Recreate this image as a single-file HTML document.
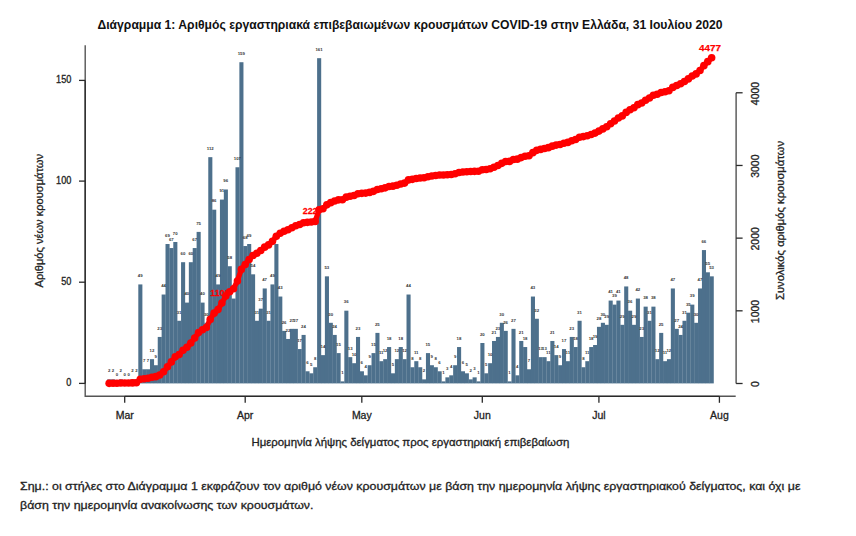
<!DOCTYPE html>
<html><head><meta charset="utf-8">
<style>
html,body{margin:0;padding:0;background:#fff;}
body{width:856px;height:536px;overflow:hidden;}
svg{display:block;font-family:"Liberation Sans",sans-serif;}
.t{stroke:#222;stroke-width:0.3px;}
</style></head><body>
<svg width="856" height="536" viewBox="0 0 856 536">
<rect width="856" height="536" fill="#fff"/>
<text x="97.5" y="28.7" font-size="12.4" font-weight="bold" fill="#111" textLength="625" lengthAdjust="spacingAndGlyphs">Διάγραμμα 1: Αριθμός εργαστηριακά επιβεβαιωμένων κρουσμάτων COVID-19 στην Ελλάδα, 31 Ιουλίου 2020</text>
<g fill="#4d708c"><rect x="107.21" y="379.36" width="4.087" height="4.04"/><rect x="111.10" y="379.36" width="4.087" height="4.04"/><rect x="118.87" y="379.36" width="4.087" height="4.04"/><rect x="130.53" y="379.36" width="4.087" height="4.04"/><rect x="134.42" y="379.36" width="4.087" height="4.04"/><rect x="138.30" y="284.42" width="4.087" height="98.98"/><rect x="142.19" y="369.26" width="4.087" height="14.14"/><rect x="146.08" y="369.26" width="4.087" height="14.14"/><rect x="149.97" y="359.16" width="4.087" height="24.24"/><rect x="153.85" y="365.22" width="4.087" height="18.18"/><rect x="157.74" y="336.94" width="4.087" height="46.46"/><rect x="161.63" y="294.52" width="4.087" height="88.88"/><rect x="165.51" y="244.02" width="4.087" height="139.38"/><rect x="169.40" y="248.06" width="4.087" height="135.34"/><rect x="173.29" y="242.00" width="4.087" height="141.40"/><rect x="177.17" y="320.78" width="4.087" height="62.62"/><rect x="181.06" y="262.20" width="4.087" height="121.20"/><rect x="184.95" y="302.60" width="4.087" height="80.80"/><rect x="188.84" y="262.20" width="4.087" height="121.20"/><rect x="192.72" y="248.06" width="4.087" height="135.34"/><rect x="196.61" y="231.90" width="4.087" height="151.50"/><rect x="200.50" y="302.60" width="4.087" height="80.80"/><rect x="204.38" y="322.80" width="4.087" height="60.60"/><rect x="208.27" y="157.16" width="4.087" height="226.24"/><rect x="212.16" y="209.68" width="4.087" height="173.72"/><rect x="216.04" y="284.42" width="4.087" height="98.98"/><rect x="219.93" y="199.58" width="4.087" height="183.82"/><rect x="223.82" y="189.48" width="4.087" height="193.92"/><rect x="227.71" y="266.24" width="4.087" height="117.16"/><rect x="231.59" y="298.56" width="4.087" height="84.84"/><rect x="235.48" y="167.26" width="4.087" height="216.14"/><rect x="239.37" y="62.22" width="4.087" height="321.18"/><rect x="243.25" y="246.04" width="4.087" height="137.36"/><rect x="247.14" y="244.02" width="4.087" height="139.38"/><rect x="251.03" y="274.32" width="4.087" height="109.08"/><rect x="254.91" y="320.78" width="4.087" height="62.62"/><rect x="258.80" y="308.66" width="4.087" height="74.74"/><rect x="262.69" y="288.46" width="4.087" height="94.94"/><rect x="266.58" y="320.78" width="4.087" height="62.62"/><rect x="270.46" y="284.42" width="4.087" height="98.98"/><rect x="274.35" y="244.02" width="4.087" height="139.38"/><rect x="278.24" y="296.54" width="4.087" height="86.86"/><rect x="282.12" y="330.88" width="4.087" height="52.52"/><rect x="286.01" y="338.96" width="4.087" height="44.44"/><rect x="289.90" y="328.86" width="4.087" height="54.54"/><rect x="293.78" y="328.86" width="4.087" height="54.54"/><rect x="297.67" y="349.06" width="4.087" height="34.34"/><rect x="301.56" y="334.92" width="4.087" height="48.48"/><rect x="305.45" y="371.28" width="4.087" height="12.12"/><rect x="309.33" y="373.30" width="4.087" height="10.10"/><rect x="313.22" y="367.24" width="4.087" height="16.16"/><rect x="317.11" y="58.18" width="4.087" height="325.22"/><rect x="320.99" y="355.12" width="4.087" height="28.28"/><rect x="324.88" y="276.34" width="4.087" height="107.06"/><rect x="328.77" y="322.80" width="4.087" height="60.60"/><rect x="332.65" y="334.92" width="4.087" height="48.48"/><rect x="336.54" y="353.10" width="4.087" height="30.30"/><rect x="340.43" y="381.38" width="4.087" height="2.02"/><rect x="344.32" y="310.68" width="4.087" height="72.72"/><rect x="348.20" y="357.14" width="4.087" height="26.26"/><rect x="352.09" y="363.20" width="4.087" height="20.20"/><rect x="355.98" y="336.94" width="4.087" height="46.46"/><rect x="359.86" y="371.28" width="4.087" height="12.12"/><rect x="363.75" y="375.32" width="4.087" height="8.08"/><rect x="367.64" y="365.22" width="4.087" height="18.18"/><rect x="371.52" y="353.10" width="4.087" height="30.30"/><rect x="375.41" y="332.90" width="4.087" height="50.50"/><rect x="379.30" y="361.18" width="4.087" height="22.22"/><rect x="383.19" y="359.16" width="4.087" height="24.24"/><rect x="387.07" y="347.04" width="4.087" height="36.36"/><rect x="390.96" y="373.30" width="4.087" height="10.10"/><rect x="394.85" y="359.16" width="4.087" height="24.24"/><rect x="398.73" y="347.04" width="4.087" height="36.36"/><rect x="402.62" y="359.16" width="4.087" height="24.24"/><rect x="406.51" y="294.52" width="4.087" height="88.88"/><rect x="410.39" y="367.24" width="4.087" height="16.16"/><rect x="414.28" y="361.18" width="4.087" height="22.22"/><rect x="418.17" y="367.24" width="4.087" height="16.16"/><rect x="422.06" y="379.36" width="4.087" height="4.04"/><rect x="425.94" y="353.10" width="4.087" height="30.30"/><rect x="429.83" y="365.22" width="4.087" height="18.18"/><rect x="433.72" y="367.24" width="4.087" height="16.16"/><rect x="437.60" y="371.28" width="4.087" height="12.12"/><rect x="441.49" y="381.38" width="4.087" height="2.02"/><rect x="445.38" y="377.34" width="4.087" height="6.06"/><rect x="449.26" y="375.32" width="4.087" height="8.08"/><rect x="453.15" y="365.22" width="4.087" height="18.18"/><rect x="457.04" y="347.04" width="4.087" height="36.36"/><rect x="460.93" y="371.28" width="4.087" height="12.12"/><rect x="464.81" y="373.30" width="4.087" height="10.10"/><rect x="468.70" y="379.36" width="4.087" height="4.04"/><rect x="472.59" y="377.34" width="4.087" height="6.06"/><rect x="476.47" y="381.38" width="4.087" height="2.02"/><rect x="480.36" y="343.00" width="4.087" height="40.40"/><rect x="484.25" y="373.30" width="4.087" height="10.10"/><rect x="488.13" y="363.20" width="4.087" height="20.20"/><rect x="492.02" y="340.98" width="4.087" height="42.42"/><rect x="495.91" y="336.94" width="4.087" height="46.46"/><rect x="499.80" y="322.80" width="4.087" height="60.60"/><rect x="503.68" y="330.88" width="4.087" height="52.52"/><rect x="507.57" y="381.38" width="4.087" height="2.02"/><rect x="511.46" y="328.86" width="4.087" height="54.54"/><rect x="515.34" y="375.32" width="4.087" height="8.08"/><rect x="519.23" y="340.98" width="4.087" height="42.42"/><rect x="523.12" y="347.04" width="4.087" height="36.36"/><rect x="527.00" y="369.26" width="4.087" height="14.14"/><rect x="530.89" y="296.54" width="4.087" height="86.86"/><rect x="534.78" y="318.76" width="4.087" height="64.64"/><rect x="538.67" y="357.14" width="4.087" height="26.26"/><rect x="542.55" y="357.14" width="4.087" height="26.26"/><rect x="546.44" y="361.18" width="4.087" height="22.22"/><rect x="550.33" y="340.98" width="4.087" height="42.42"/><rect x="554.21" y="355.12" width="4.087" height="28.28"/><rect x="558.10" y="365.22" width="4.087" height="18.18"/><rect x="561.99" y="349.06" width="4.087" height="34.34"/><rect x="565.87" y="361.18" width="4.087" height="22.22"/><rect x="569.76" y="336.94" width="4.087" height="46.46"/><rect x="573.65" y="347.04" width="4.087" height="36.36"/><rect x="577.54" y="320.78" width="4.087" height="62.62"/><rect x="581.42" y="367.24" width="4.087" height="16.16"/><rect x="585.31" y="361.18" width="4.087" height="22.22"/><rect x="589.20" y="347.04" width="4.087" height="36.36"/><rect x="593.08" y="345.02" width="4.087" height="38.38"/><rect x="596.97" y="326.84" width="4.087" height="56.56"/><rect x="600.86" y="322.80" width="4.087" height="60.60"/><rect x="604.74" y="324.82" width="4.087" height="58.58"/><rect x="608.63" y="300.58" width="4.087" height="82.82"/><rect x="612.52" y="304.62" width="4.087" height="78.78"/><rect x="616.41" y="300.58" width="4.087" height="82.82"/><rect x="620.29" y="324.82" width="4.087" height="58.58"/><rect x="624.18" y="286.44" width="4.087" height="96.96"/><rect x="628.07" y="310.68" width="4.087" height="72.72"/><rect x="631.95" y="324.82" width="4.087" height="58.58"/><rect x="635.84" y="298.56" width="4.087" height="84.84"/><rect x="639.73" y="336.94" width="4.087" height="46.46"/><rect x="643.61" y="306.64" width="4.087" height="76.76"/><rect x="647.50" y="320.78" width="4.087" height="62.62"/><rect x="651.39" y="306.64" width="4.087" height="76.76"/><rect x="655.28" y="359.16" width="4.087" height="24.24"/><rect x="659.16" y="332.90" width="4.087" height="50.50"/><rect x="663.05" y="361.18" width="4.087" height="22.22"/><rect x="666.94" y="359.16" width="4.087" height="24.24"/><rect x="670.82" y="288.46" width="4.087" height="94.94"/><rect x="674.71" y="328.86" width="4.087" height="54.54"/><rect x="678.60" y="334.92" width="4.087" height="48.48"/><rect x="682.48" y="320.78" width="4.087" height="62.62"/><rect x="686.37" y="312.70" width="4.087" height="70.70"/><rect x="690.26" y="304.62" width="4.087" height="78.78"/><rect x="694.15" y="322.80" width="4.087" height="60.60"/><rect x="698.03" y="288.46" width="4.087" height="94.94"/><rect x="701.92" y="250.08" width="4.087" height="133.32"/><rect x="705.81" y="272.30" width="4.087" height="111.10"/><rect x="709.69" y="276.34" width="4.087" height="107.06"/></g>
<g fill="#333" font-size="4.3" font-weight="bold" text-anchor="middle"><text x="109.15" y="372.16">2</text><text x="113.04" y="372.16">2</text><text x="116.93" y="376.20">0</text><text x="120.81" y="372.16">2</text><text x="124.70" y="376.20">0</text><text x="128.59" y="376.20">0</text><text x="132.47" y="372.16">2</text><text x="136.36" y="372.16">2</text><text x="140.25" y="277.22">49</text><text x="144.13" y="362.06">7</text><text x="148.02" y="362.06">7</text><text x="151.91" y="351.96">12</text><text x="155.80" y="358.02">9</text><text x="159.68" y="329.74">23</text><text x="163.57" y="287.32">44</text><text x="167.46" y="236.82">69</text><text x="171.34" y="240.86">67</text><text x="175.23" y="234.80">70</text><text x="179.12" y="313.58">31</text><text x="183.00" y="255.00">60</text><text x="186.89" y="295.40">40</text><text x="190.78" y="255.00">60</text><text x="194.67" y="240.86">67</text><text x="198.55" y="224.70">75</text><text x="202.44" y="295.40">40</text><text x="206.33" y="315.60">30</text><text x="210.21" y="149.96">112</text><text x="214.10" y="202.48">86</text><text x="217.99" y="277.22">49</text><text x="221.88" y="192.38">91</text><text x="225.76" y="182.28">96</text><text x="229.65" y="259.04">58</text><text x="233.54" y="291.36">42</text><text x="237.42" y="160.06">107</text><text x="241.31" y="55.02">159</text><text x="245.20" y="238.84">68</text><text x="249.08" y="236.82">69</text><text x="252.97" y="267.12">54</text><text x="256.86" y="313.58">31</text><text x="260.75" y="301.46">37</text><text x="264.63" y="281.26">47</text><text x="268.52" y="313.58">31</text><text x="272.41" y="277.22">49</text><text x="276.29" y="236.82">69</text><text x="280.18" y="289.34">43</text><text x="284.07" y="323.68">26</text><text x="287.95" y="331.76">22</text><text x="291.84" y="321.66">27</text><text x="295.73" y="321.66">27</text><text x="299.62" y="341.86">17</text><text x="303.50" y="327.72">24</text><text x="307.39" y="364.08">6</text><text x="311.28" y="366.10">5</text><text x="315.16" y="360.04">8</text><text x="319.05" y="50.98">161</text><text x="322.94" y="347.92">14</text><text x="326.82" y="269.14">53</text><text x="330.71" y="315.60">30</text><text x="334.60" y="327.72">24</text><text x="338.49" y="345.90">15</text><text x="342.37" y="374.18">1</text><text x="346.26" y="303.48">36</text><text x="350.15" y="349.94">13</text><text x="354.03" y="356.00">10</text><text x="357.92" y="329.74">23</text><text x="361.81" y="364.08">6</text><text x="365.69" y="368.12">4</text><text x="369.58" y="358.02">9</text><text x="373.47" y="345.90">15</text><text x="377.36" y="325.70">25</text><text x="381.24" y="353.98">11</text><text x="385.13" y="351.96">12</text><text x="389.02" y="339.84">18</text><text x="392.90" y="366.10">5</text><text x="396.79" y="351.96">12</text><text x="400.68" y="339.84">18</text><text x="404.56" y="351.96">12</text><text x="408.45" y="287.32">44</text><text x="412.34" y="360.04">8</text><text x="416.22" y="353.98">11</text><text x="420.11" y="360.04">8</text><text x="424.00" y="372.16">2</text><text x="427.89" y="345.90">15</text><text x="431.77" y="358.02">9</text><text x="435.66" y="360.04">8</text><text x="439.55" y="364.08">6</text><text x="443.43" y="374.18">1</text><text x="447.32" y="370.14">3</text><text x="451.21" y="368.12">4</text><text x="455.09" y="358.02">9</text><text x="458.98" y="339.84">18</text><text x="462.87" y="364.08">6</text><text x="466.76" y="366.10">5</text><text x="470.64" y="372.16">2</text><text x="474.53" y="370.14">3</text><text x="478.42" y="374.18">1</text><text x="482.30" y="335.80">20</text><text x="486.19" y="366.10">5</text><text x="490.08" y="356.00">10</text><text x="493.96" y="333.78">21</text><text x="497.85" y="329.74">23</text><text x="501.74" y="315.60">30</text><text x="505.63" y="323.68">26</text><text x="509.51" y="374.18">1</text><text x="513.40" y="321.66">27</text><text x="517.29" y="368.12">4</text><text x="521.17" y="333.78">21</text><text x="525.06" y="339.84">18</text><text x="528.95" y="362.06">7</text><text x="532.84" y="289.34">43</text><text x="536.72" y="311.56">32</text><text x="540.61" y="349.94">13</text><text x="544.50" y="349.94">13</text><text x="548.38" y="353.98">11</text><text x="552.27" y="333.78">21</text><text x="556.16" y="347.92">14</text><text x="560.04" y="358.02">9</text><text x="563.93" y="341.86">17</text><text x="567.82" y="353.98">11</text><text x="571.71" y="329.74">23</text><text x="575.59" y="339.84">18</text><text x="579.48" y="313.58">31</text><text x="583.37" y="360.04">8</text><text x="587.25" y="353.98">11</text><text x="591.14" y="339.84">18</text><text x="595.03" y="337.82">19</text><text x="598.91" y="319.64">28</text><text x="602.80" y="315.60">30</text><text x="606.69" y="317.62">29</text><text x="610.58" y="293.38">41</text><text x="614.46" y="297.42">39</text><text x="618.35" y="293.38">41</text><text x="622.24" y="317.62">29</text><text x="626.12" y="279.24">48</text><text x="630.01" y="303.48">36</text><text x="633.90" y="317.62">29</text><text x="637.78" y="291.36">42</text><text x="641.67" y="329.74">23</text><text x="645.56" y="299.44">38</text><text x="649.45" y="313.58">31</text><text x="653.33" y="299.44">38</text><text x="657.22" y="351.96">12</text><text x="661.11" y="325.70">25</text><text x="664.99" y="353.98">11</text><text x="668.88" y="351.96">12</text><text x="672.77" y="281.26">47</text><text x="676.65" y="321.66">27</text><text x="680.54" y="327.72">24</text><text x="684.43" y="313.58">31</text><text x="688.32" y="305.50">35</text><text x="692.20" y="297.42">39</text><text x="696.09" y="315.60">30</text><text x="699.98" y="281.26">47</text><text x="703.86" y="242.88">66</text><text x="707.75" y="265.10">55</text><text x="711.64" y="269.14">53</text></g>
<g stroke="#555" stroke-width="1.4" fill="none"><path d="M85.2 45.3 V396.3 H735.7"/></g>
<g stroke="#2a2a2a" stroke-width="1.3" fill="none">
<path d="M85.2 80.4 V383.4"/>
<path d="M124.70 396.3 H719.41"/>
<path d="M736.1 92.8 V383.5" stroke="#444"/>
<line x1="79" y1="383.4" x2="85.2" y2="383.4"/><line x1="79" y1="282.2" x2="85.2" y2="282.2"/><line x1="79" y1="181.1" x2="85.2" y2="181.1"/><line x1="79" y1="80.4" x2="85.2" y2="80.4"/><line x1="124.70" y1="396.3" x2="124.70" y2="402.8"/><line x1="245.20" y1="396.3" x2="245.20" y2="402.8"/><line x1="361.81" y1="396.3" x2="361.81" y2="402.8"/><line x1="482.30" y1="396.3" x2="482.30" y2="402.8"/><line x1="598.91" y1="396.3" x2="598.91" y2="402.8"/><line x1="719.41" y1="396.3" x2="719.41" y2="402.8"/><line x1="736.1" y1="383.50" x2="742.6" y2="383.50"/><line x1="736.1" y1="310.82" x2="742.6" y2="310.82"/><line x1="736.1" y1="238.14" x2="742.6" y2="238.14"/><line x1="736.1" y1="165.46" x2="742.6" y2="165.46"/><line x1="736.1" y1="92.78" x2="742.6" y2="92.78"/>
</g>
<g class="t" font-size="10" fill="#222" text-anchor="end"><text transform="translate(71.4 386.4) scale(0.92 1)">0</text><text transform="translate(71.4 285.2) scale(0.92 1)">50</text><text transform="translate(71.4 184.1) scale(0.92 1)">100</text><text transform="translate(71.4 83.4) scale(0.92 1)">150</text></g>
<g class="t" font-size="10.5" fill="#222" text-anchor="middle"><text x="124.70" y="419.4">Mar</text><text x="245.20" y="419.4">Apr</text><text x="361.81" y="419.4">May</text><text x="482.30" y="419.4">Jun</text><text x="598.91" y="419.4">Jul</text><text x="719.41" y="419.4">Aug</text></g>
<g class="t" font-size="10.5" fill="#222" text-anchor="middle"><text transform="translate(759.3 384.20) rotate(-90)">0</text><text transform="translate(759.3 311.52) rotate(-90)">1000</text><text transform="translate(759.3 238.84) rotate(-90)">2000</text><text transform="translate(759.3 166.16) rotate(-90)">3000</text><text transform="translate(759.3 93.48) rotate(-90)">4000</text></g>
<text class="t" transform="translate(42.9 287.5) rotate(-90)" font-size="11" fill="#222" textLength="133.5" lengthAdjust="spacingAndGlyphs">Αριθμός νέων κρουσμάτων</text>
<text class="t" transform="translate(784 300) rotate(-90)" font-size="11" fill="#222" textLength="159" lengthAdjust="spacingAndGlyphs">Συνολικός αριθμός κρουσμάτων</text>
<text class="t" x="251.4" y="445.8" font-size="11" fill="#222" textLength="318" lengthAdjust="spacingAndGlyphs">Ημερομηνία λήψης δείγματος προς εργαστηριακή επιβεβαίωση</text>
<g font-size="9.6" font-weight="bold" fill="#f00" stroke="#f00" stroke-width="0.25">
<text transform="translate(210.3 296) scale(0.92 1)">1100</text>
<text transform="translate(302.8 214.2) scale(0.92 1)">2227</text>
<text x="699" y="51.2" font-size="9.8" textLength="22" lengthAdjust="spacingAndGlyphs">4477</text>
</g>
<g stroke="#f00" stroke-width="5.2" fill="none" stroke-linejoin="round" stroke-linecap="round"><polyline points="109.15,383.35 113.04,383.21 116.93,383.21 120.81,383.06 124.70,383.06 128.59,383.06 132.47,382.92 136.36,382.77 140.25,379.21 144.13,378.70 148.02,378.19 151.91,377.32 155.80,376.67 159.68,375.00 163.57,371.80 167.46,366.78 171.34,361.91 175.23,356.83 179.12,354.57 183.00,350.21 186.89,347.31 190.78,342.94 194.67,338.07 198.55,332.62 202.44,329.72 206.33,327.54 210.21,319.40 214.10,313.15 217.99,309.58 221.88,302.97 225.76,295.99 229.65,291.78 233.54,288.73 237.42,280.95 241.31,269.39 245.20,264.45 249.08,259.44 252.97,255.51 256.86,253.26 260.75,250.57 264.63,247.15 268.52,244.90 272.41,241.34 276.29,236.32 280.18,233.20 284.07,231.31 287.95,229.71 291.84,227.75 295.73,225.78 299.62,224.55 303.50,222.80 307.39,222.37 311.28,222.01 315.16,221.42 319.05,209.72 322.94,208.70 326.82,204.85 330.71,202.67 334.60,200.93 338.49,199.84 342.37,199.76 346.26,197.15 350.15,196.20 354.03,195.48 357.92,193.81 361.81,193.37 365.69,193.08 369.58,192.42 373.47,191.33 377.36,189.52 381.24,188.72 385.13,187.85 389.02,186.54 392.90,186.17 396.79,185.30 400.68,183.99 404.56,183.12 408.45,179.92 412.34,179.34 416.22,178.54 420.11,177.96 424.00,177.82 427.89,176.73 431.77,176.07 435.66,175.49 439.55,175.05 443.43,174.98 447.32,174.76 451.21,174.47 455.09,173.82 458.98,172.51 462.87,172.07 466.76,171.71 470.64,171.57 474.53,171.35 478.42,171.27 482.30,169.82 486.19,169.46 490.08,168.73 493.96,167.20 497.85,165.53 501.74,163.35 505.63,161.46 509.51,161.39 513.40,159.43 517.29,159.14 521.17,157.61 525.06,156.30 528.95,155.79 532.84,152.67 536.72,150.34 540.61,149.40 544.50,148.45 548.38,147.65 552.27,146.13 556.16,145.11 560.04,144.46 563.93,143.22 567.82,142.42 571.71,140.75 575.59,139.44 579.48,137.19 583.37,136.61 587.25,135.81 591.14,134.50 595.03,133.12 598.91,131.08 602.80,128.90 606.69,126.79 610.58,123.81 614.46,120.98 618.35,118.00 622.24,115.89 626.12,112.40 630.01,109.79 633.90,107.68 637.78,104.63 641.67,102.96 645.56,100.19 649.45,97.94 653.33,95.18 657.22,94.31 661.11,92.49 664.99,91.69 668.88,90.82 672.77,87.40 676.65,85.44 680.54,83.70 684.43,81.44 688.32,78.90 692.20,76.06 696.09,73.88 699.98,70.47 703.86,65.67 707.75,61.67 711.64,57.82"/></g>
<g fill="#f00"><circle cx="109.15" cy="383.35" r="3.8"/><circle cx="113.04" cy="383.21" r="3.8"/><circle cx="116.93" cy="383.21" r="3.8"/><circle cx="120.81" cy="383.06" r="3.8"/><circle cx="124.70" cy="383.06" r="3.8"/><circle cx="128.59" cy="383.06" r="3.8"/><circle cx="132.47" cy="382.92" r="3.8"/><circle cx="136.36" cy="382.77" r="3.8"/><circle cx="140.25" cy="379.21" r="3.8"/><circle cx="144.13" cy="378.70" r="3.8"/><circle cx="148.02" cy="378.19" r="3.8"/><circle cx="151.91" cy="377.32" r="3.8"/><circle cx="155.80" cy="376.67" r="3.8"/><circle cx="159.68" cy="375.00" r="3.8"/><circle cx="163.57" cy="371.80" r="3.8"/><circle cx="167.46" cy="366.78" r="3.8"/><circle cx="171.34" cy="361.91" r="3.8"/><circle cx="175.23" cy="356.83" r="3.8"/><circle cx="179.12" cy="354.57" r="3.8"/><circle cx="183.00" cy="350.21" r="3.8"/><circle cx="186.89" cy="347.31" r="3.8"/><circle cx="190.78" cy="342.94" r="3.8"/><circle cx="194.67" cy="338.07" r="3.8"/><circle cx="198.55" cy="332.62" r="3.8"/><circle cx="202.44" cy="329.72" r="3.8"/><circle cx="206.33" cy="327.54" r="3.8"/><circle cx="210.21" cy="319.40" r="3.8"/><circle cx="214.10" cy="313.15" r="3.8"/><circle cx="217.99" cy="309.58" r="3.8"/><circle cx="221.88" cy="302.97" r="3.8"/><circle cx="225.76" cy="295.99" r="3.8"/><circle cx="229.65" cy="291.78" r="3.8"/><circle cx="233.54" cy="288.73" r="3.8"/><circle cx="237.42" cy="280.95" r="3.8"/><circle cx="241.31" cy="269.39" r="3.8"/><circle cx="245.20" cy="264.45" r="3.8"/><circle cx="249.08" cy="259.44" r="3.8"/><circle cx="252.97" cy="255.51" r="3.8"/><circle cx="256.86" cy="253.26" r="3.8"/><circle cx="260.75" cy="250.57" r="3.8"/><circle cx="264.63" cy="247.15" r="3.8"/><circle cx="268.52" cy="244.90" r="3.8"/><circle cx="272.41" cy="241.34" r="3.8"/><circle cx="276.29" cy="236.32" r="3.8"/><circle cx="280.18" cy="233.20" r="3.8"/><circle cx="284.07" cy="231.31" r="3.8"/><circle cx="287.95" cy="229.71" r="3.8"/><circle cx="291.84" cy="227.75" r="3.8"/><circle cx="295.73" cy="225.78" r="3.8"/><circle cx="299.62" cy="224.55" r="3.8"/><circle cx="303.50" cy="222.80" r="3.8"/><circle cx="307.39" cy="222.37" r="3.8"/><circle cx="311.28" cy="222.01" r="3.8"/><circle cx="315.16" cy="221.42" r="3.8"/><circle cx="319.05" cy="209.72" r="3.8"/><circle cx="322.94" cy="208.70" r="3.8"/><circle cx="326.82" cy="204.85" r="3.8"/><circle cx="330.71" cy="202.67" r="3.8"/><circle cx="334.60" cy="200.93" r="3.8"/><circle cx="338.49" cy="199.84" r="3.8"/><circle cx="342.37" cy="199.76" r="3.8"/><circle cx="346.26" cy="197.15" r="3.8"/><circle cx="350.15" cy="196.20" r="3.8"/><circle cx="354.03" cy="195.48" r="3.8"/><circle cx="357.92" cy="193.81" r="3.8"/><circle cx="361.81" cy="193.37" r="3.8"/><circle cx="365.69" cy="193.08" r="3.8"/><circle cx="369.58" cy="192.42" r="3.8"/><circle cx="373.47" cy="191.33" r="3.8"/><circle cx="377.36" cy="189.52" r="3.8"/><circle cx="381.24" cy="188.72" r="3.8"/><circle cx="385.13" cy="187.85" r="3.8"/><circle cx="389.02" cy="186.54" r="3.8"/><circle cx="392.90" cy="186.17" r="3.8"/><circle cx="396.79" cy="185.30" r="3.8"/><circle cx="400.68" cy="183.99" r="3.8"/><circle cx="404.56" cy="183.12" r="3.8"/><circle cx="408.45" cy="179.92" r="3.8"/><circle cx="412.34" cy="179.34" r="3.8"/><circle cx="416.22" cy="178.54" r="3.8"/><circle cx="420.11" cy="177.96" r="3.8"/><circle cx="424.00" cy="177.82" r="3.8"/><circle cx="427.89" cy="176.73" r="3.8"/><circle cx="431.77" cy="176.07" r="3.8"/><circle cx="435.66" cy="175.49" r="3.8"/><circle cx="439.55" cy="175.05" r="3.8"/><circle cx="443.43" cy="174.98" r="3.8"/><circle cx="447.32" cy="174.76" r="3.8"/><circle cx="451.21" cy="174.47" r="3.8"/><circle cx="455.09" cy="173.82" r="3.8"/><circle cx="458.98" cy="172.51" r="3.8"/><circle cx="462.87" cy="172.07" r="3.8"/><circle cx="466.76" cy="171.71" r="3.8"/><circle cx="470.64" cy="171.57" r="3.8"/><circle cx="474.53" cy="171.35" r="3.8"/><circle cx="478.42" cy="171.27" r="3.8"/><circle cx="482.30" cy="169.82" r="3.8"/><circle cx="486.19" cy="169.46" r="3.8"/><circle cx="490.08" cy="168.73" r="3.8"/><circle cx="493.96" cy="167.20" r="3.8"/><circle cx="497.85" cy="165.53" r="3.8"/><circle cx="501.74" cy="163.35" r="3.8"/><circle cx="505.63" cy="161.46" r="3.8"/><circle cx="509.51" cy="161.39" r="3.8"/><circle cx="513.40" cy="159.43" r="3.8"/><circle cx="517.29" cy="159.14" r="3.8"/><circle cx="521.17" cy="157.61" r="3.8"/><circle cx="525.06" cy="156.30" r="3.8"/><circle cx="528.95" cy="155.79" r="3.8"/><circle cx="532.84" cy="152.67" r="3.8"/><circle cx="536.72" cy="150.34" r="3.8"/><circle cx="540.61" cy="149.40" r="3.8"/><circle cx="544.50" cy="148.45" r="3.8"/><circle cx="548.38" cy="147.65" r="3.8"/><circle cx="552.27" cy="146.13" r="3.8"/><circle cx="556.16" cy="145.11" r="3.8"/><circle cx="560.04" cy="144.46" r="3.8"/><circle cx="563.93" cy="143.22" r="3.8"/><circle cx="567.82" cy="142.42" r="3.8"/><circle cx="571.71" cy="140.75" r="3.8"/><circle cx="575.59" cy="139.44" r="3.8"/><circle cx="579.48" cy="137.19" r="3.8"/><circle cx="583.37" cy="136.61" r="3.8"/><circle cx="587.25" cy="135.81" r="3.8"/><circle cx="591.14" cy="134.50" r="3.8"/><circle cx="595.03" cy="133.12" r="3.8"/><circle cx="598.91" cy="131.08" r="3.8"/><circle cx="602.80" cy="128.90" r="3.8"/><circle cx="606.69" cy="126.79" r="3.8"/><circle cx="610.58" cy="123.81" r="3.8"/><circle cx="614.46" cy="120.98" r="3.8"/><circle cx="618.35" cy="118.00" r="3.8"/><circle cx="622.24" cy="115.89" r="3.8"/><circle cx="626.12" cy="112.40" r="3.8"/><circle cx="630.01" cy="109.79" r="3.8"/><circle cx="633.90" cy="107.68" r="3.8"/><circle cx="637.78" cy="104.63" r="3.8"/><circle cx="641.67" cy="102.96" r="3.8"/><circle cx="645.56" cy="100.19" r="3.8"/><circle cx="649.45" cy="97.94" r="3.8"/><circle cx="653.33" cy="95.18" r="3.8"/><circle cx="657.22" cy="94.31" r="3.8"/><circle cx="661.11" cy="92.49" r="3.8"/><circle cx="664.99" cy="91.69" r="3.8"/><circle cx="668.88" cy="90.82" r="3.8"/><circle cx="672.77" cy="87.40" r="3.8"/><circle cx="676.65" cy="85.44" r="3.8"/><circle cx="680.54" cy="83.70" r="3.8"/><circle cx="684.43" cy="81.44" r="3.8"/><circle cx="688.32" cy="78.90" r="3.8"/><circle cx="692.20" cy="76.06" r="3.8"/><circle cx="696.09" cy="73.88" r="3.8"/><circle cx="699.98" cy="70.47" r="3.8"/><circle cx="703.86" cy="65.67" r="3.8"/><circle cx="707.75" cy="61.67" r="3.8"/><circle cx="711.64" cy="57.82" r="3.8"/></g>
<text class="t" x="20.1" y="489.8" font-size="11.5" fill="#222" textLength="780.3" lengthAdjust="spacingAndGlyphs">Σημ.: οι στήλες στο Διάγραμμα 1 εκφράζουν τον αριθμό νέων κρουσμάτων με βάση την ημερομηνία λήψης εργαστηριακού δείγματος, και όχι με</text>
<text class="t" x="20.1" y="508.5" font-size="11.5" fill="#222" textLength="293.4" lengthAdjust="spacingAndGlyphs">βάση την ημερομηνία ανακοίνωσης των κρουσμάτων.</text>
</svg>
</body></html>
